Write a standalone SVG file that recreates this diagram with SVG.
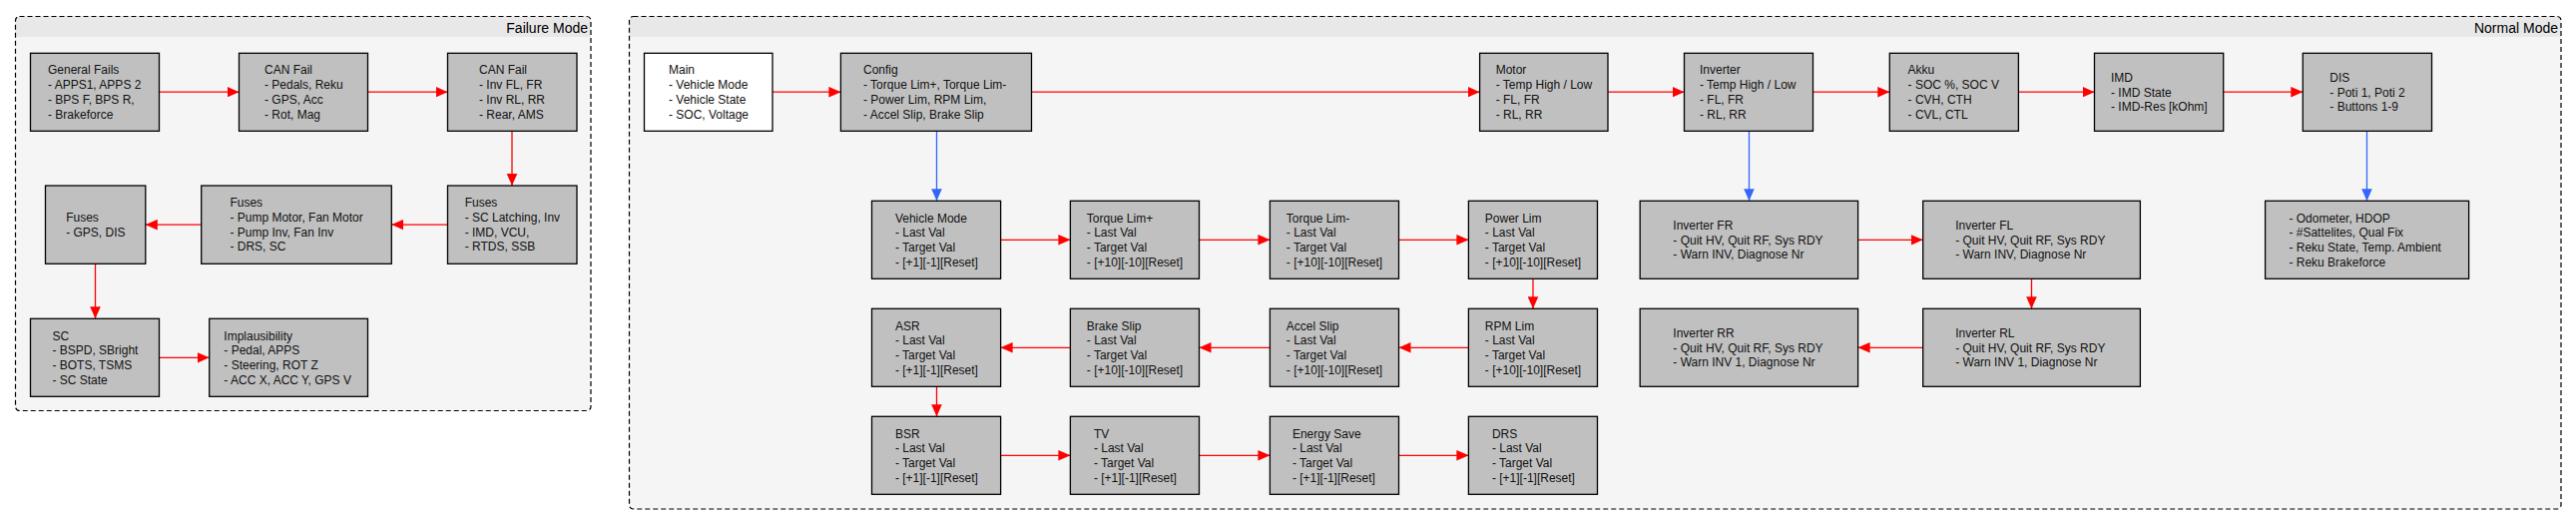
<svg xmlns="http://www.w3.org/2000/svg" width="2581" height="526" viewBox="0 0 2581 526">
<style>
.cont{fill:#f5f5f5;stroke:none}
.hdr{fill:#e8e8e8;stroke:none}
.border{fill:none;stroke:#000;stroke-width:1.2;stroke-dasharray:5,3}
.title{font-family:"Liberation Sans",Arial,sans-serif;font-size:14px;fill:#000;text-anchor:end}
.box{fill:#c0c0c0;stroke:#000;stroke-width:1.3}
.wbox{fill:#ffffff;stroke:#000;stroke-width:1.3}
.t{font-family:"Liberation Sans",Arial,sans-serif;font-size:12px;fill:#111}
.r{stroke:#ff0000;stroke-width:1.3;fill:none;marker-end:url(#ar)}
.b{stroke:#3366ff;stroke-width:1.3;fill:none;marker-end:url(#ab)}
</style>
<defs>
<marker id="ar" markerUnits="userSpaceOnUse" markerWidth="12" markerHeight="11" refX="12" refY="5.3" orient="auto" viewBox="0 0 12 10.6"><path d="M0,0 L12,5.3 L0,10.6 z" fill="#ff0000"/></marker>
<marker id="ab" markerUnits="userSpaceOnUse" markerWidth="12" markerHeight="11" refX="12" refY="5.3" orient="auto" viewBox="0 0 12 10.6"><path d="M0,0 L12,5.3 L0,10.6 z" fill="#3366ff"/></marker>
</defs>
<rect width="2581" height="526" fill="#ffffff"/>

<g id="failure-mode">
<rect class="cont" x="15.5" y="16.5" width="576.5" height="395" rx="4"/>
<path class="hdr" d="M15.5,37 V20.5 A4,4 0 0 1 19.5,16.5 H588 A4,4 0 0 1 592,20.5 V37 Z"/>
<rect class="border" x="15.5" y="16.5" width="576.5" height="395" rx="4"/>
<text class="title" x="589" y="32.5">Failure Mode</text>
</g>

<g id="normal-mode">
<rect class="cont" x="630.5" y="16.5" width="1935.5" height="493.5" rx="4"/>
<path class="hdr" d="M630.5,37 V20.5 A4,4 0 0 1 634.5,16.5 H2562 A4,4 0 0 1 2566,20.5 V37 Z"/>
<rect class="border" x="630.5" y="16.5" width="1935.5" height="493.5" rx="4"/>
<text class="title" x="2563" y="32.5">Normal Mode</text>
</g>

<g id="connectors">
<line class="r" x1="159.5" y1="92.2" x2="239.5" y2="92.2"/>
<line class="r" x1="368.5" y1="92.2" x2="448.5" y2="92.2"/>
<line class="r" x1="513" y1="131.3" x2="513" y2="186"/>
<line class="r" x1="448.5" y1="225.1" x2="392.3" y2="225.1"/>
<line class="r" x1="201.7" y1="225.1" x2="145.8" y2="225.1"/>
<line class="r" x1="95.5" y1="264.1" x2="95.5" y2="319.3"/>
<line class="r" x1="159.5" y1="358.3" x2="209.7" y2="358.3"/>

<line class="r" x1="774" y1="92.2" x2="842.4" y2="92.2"/>
<line class="r" x1="1033.5" y1="92.2" x2="1482.6" y2="92.2"/>
<line class="r" x1="1611" y1="92.2" x2="1687.5" y2="92.2"/>
<line class="r" x1="1816.5" y1="92.2" x2="1893.3" y2="92.2"/>
<line class="r" x1="2022.4" y1="92.2" x2="2098.5" y2="92.2"/>
<line class="r" x1="2227.7" y1="92.2" x2="2307.3" y2="92.2"/>
<line class="b" x1="938.5" y1="131.3" x2="938.5" y2="201.3"/>
<line class="b" x1="1752.5" y1="131.3" x2="1752.5" y2="201.3"/>
<line class="b" x1="2371.5" y1="131.3" x2="2371.5" y2="201.3"/>

<line class="r" x1="1002.6" y1="240.3" x2="1072.4" y2="240.3"/>
<line class="r" x1="1201.5" y1="240.3" x2="1272.4" y2="240.3"/>
<line class="r" x1="1401.5" y1="240.3" x2="1471.4" y2="240.3"/>
<line class="r" x1="1536" y1="279.3" x2="1536" y2="309.3"/>
<line class="r" x1="1471.4" y1="348.3" x2="1401.5" y2="348.3"/>
<line class="r" x1="1272.4" y1="348.3" x2="1201.5" y2="348.3"/>
<line class="r" x1="1072.4" y1="348.3" x2="1002.6" y2="348.3"/>
<line class="r" x1="938.5" y1="387.3" x2="938.5" y2="417.3"/>
<line class="r" x1="1002.6" y1="456.3" x2="1072.4" y2="456.3"/>
<line class="r" x1="1201.5" y1="456.3" x2="1272.4" y2="456.3"/>
<line class="r" x1="1401.5" y1="456.3" x2="1471.4" y2="456.3"/>

<line class="r" x1="1861.6" y1="240.3" x2="1926.7" y2="240.3"/>
<line class="r" x1="2035.5" y1="279.3" x2="2035.5" y2="309.3"/>
<line class="r" x1="1926.7" y1="348.3" x2="1861.6" y2="348.3"/>
</g>

<g id="general-fails"><rect class="box" x="30.5" y="53.3" width="129" height="78"/>
<text class="t" x="48" y="74.4">General Fails<tspan x="48" dy="14.7">- APPS1, APPS 2</tspan><tspan x="48" dy="14.7">- BPS F, BPS R,</tspan><tspan x="48" dy="14.7">- Brakeforce</tspan></text></g>

<g id="can-fail-1"><rect class="box" x="239.5" y="53.3" width="129" height="78"/>
<text class="t" x="265" y="74.4">CAN Fail<tspan x="265" dy="14.7">- Pedals, Reku</tspan><tspan x="265" dy="14.7">- GPS, Acc</tspan><tspan x="265" dy="14.7">- Rot, Mag</tspan></text></g>

<g id="can-fail-2"><rect class="box" x="448.5" y="53.3" width="129.5" height="78"/>
<text class="t" x="480" y="74.4">CAN Fail<tspan x="480" dy="14.7">- Inv FL, FR</tspan><tspan x="480" dy="14.7">- Inv RL, RR</tspan><tspan x="480" dy="14.7">- Rear, AMS</tspan></text></g>

<g id="fuses-right"><rect class="box" x="448.5" y="186" width="129.5" height="78.3"/>
<text class="t" x="465.7" y="207.3">Fuses<tspan x="465.7" dy="14.7">- SC Latching, Inv</tspan><tspan x="465.7" dy="14.7">- IMD, VCU,</tspan><tspan x="465.7" dy="14.7">- RTDS, SSB</tspan></text></g>

<g id="fuses-middle"><rect class="box" x="201.7" y="186" width="190.6" height="78.3"/>
<text class="t" x="230.4" y="207.3">Fuses<tspan x="230.4" dy="14.7">- Pump Motor, Fan Motor</tspan><tspan x="230.4" dy="14.7">- Pump Inv, Fan Inv</tspan><tspan x="230.4" dy="14.7">- DRS, SC</tspan></text></g>

<g id="fuses-left"><rect class="box" x="45.5" y="186" width="100.3" height="78.3"/>
<text class="t" x="66.2" y="222">Fuses<tspan x="66.2" dy="14.7">- GPS, DIS</tspan></text></g>

<g id="sc"><rect class="box" x="30.5" y="319.3" width="129" height="78"/>
<text class="t" x="52.4" y="340.5">SC<tspan x="52.4" dy="14.7">- BSPD, SBright</tspan><tspan x="52.4" dy="14.7">- BOTS, TSMS</tspan><tspan x="52.4" dy="14.7">- SC State</tspan></text></g>

<g id="implausibility"><rect class="box" x="209.7" y="319.3" width="158.8" height="78"/>
<text class="t" x="224.3" y="340.5">Implausibility<tspan x="224.3" dy="14.7">- Pedal, APPS</tspan><tspan x="224.3" dy="14.7">- Steering, ROT Z</tspan><tspan x="224.3" dy="14.7">- ACC X, ACC Y, GPS V</tspan></text></g>

<g id="main"><rect class="wbox" x="645.5" y="53.3" width="128.5" height="78"/>
<text class="t" x="670" y="74.4">Main<tspan x="670" dy="14.7">- Vehicle Mode</tspan><tspan x="670" dy="14.7">- Vehicle State</tspan><tspan x="670" dy="14.7">- SOC, Voltage</tspan></text></g>

<g id="config"><rect class="box" x="842.4" y="53.3" width="191.1" height="78"/>
<text class="t" x="865" y="74.4">Config<tspan x="865" dy="14.7">- Torque Lim+, Torque Lim-</tspan><tspan x="865" dy="14.7">- Power Lim, RPM Lim,</tspan><tspan x="865" dy="14.7">- Accel Slip, Brake Slip</tspan></text></g>

<g id="motor"><rect class="box" x="1482.6" y="53.3" width="128.4" height="78"/>
<text class="t" x="1498.7" y="74.4">Motor<tspan x="1498.7" dy="14.7">- Temp High / Low</tspan><tspan x="1498.7" dy="14.7">- FL, FR</tspan><tspan x="1498.7" dy="14.7">- RL, RR</tspan></text></g>

<g id="inverter"><rect class="box" x="1687.5" y="53.3" width="129" height="78"/>
<text class="t" x="1703" y="74.4">Inverter<tspan x="1703" dy="14.7">- Temp High / Low</tspan><tspan x="1703" dy="14.7">- FL, FR</tspan><tspan x="1703" dy="14.7">- RL, RR</tspan></text></g>

<g id="akku"><rect class="box" x="1893.3" y="53.3" width="129.1" height="78"/>
<text class="t" x="1911.6" y="74.4">Akku<tspan x="1911.6" dy="14.7">- SOC %, SOC V</tspan><tspan x="1911.6" dy="14.7">- CVH, CTH</tspan><tspan x="1911.6" dy="14.7">- CVL, CTL</tspan></text></g>

<g id="imd"><rect class="box" x="2098.5" y="53.3" width="129.2" height="78"/>
<text class="t" x="2115" y="81.8">IMD<tspan x="2115" dy="14.7">- IMD State</tspan><tspan x="2115" dy="14.7">- IMD-Res [kOhm]</tspan></text></g>

<g id="dis"><rect class="box" x="2307.3" y="53.3" width="129.2" height="78"/>
<text class="t" x="2334.3" y="81.8">DIS<tspan x="2334.3" dy="14.7">- Poti 1, Poti 2</tspan><tspan x="2334.3" dy="14.7">- Buttons 1-9</tspan></text></g>

<g id="vehicle-mode"><rect class="box" x="873.5" y="201.3" width="129.1" height="78"/>
<text class="t" x="896.9" y="222.5">Vehicle Mode<tspan x="896.9" dy="14.7">- Last Val</tspan><tspan x="896.9" dy="14.7">- Target Val</tspan><tspan x="896.9" dy="14.7">- [+1][-1][Reset]</tspan></text></g>

<g id="torque-lim-plus"><rect class="box" x="1072.4" y="201.3" width="129.1" height="78"/>
<text class="t" x="1088.8" y="222.5">Torque Lim+<tspan x="1088.8" dy="14.7">- Last Val</tspan><tspan x="1088.8" dy="14.7">- Target Val</tspan><tspan x="1088.8" dy="14.7">- [+10][-10][Reset]</tspan></text></g>

<g id="torque-lim-minus"><rect class="box" x="1272.4" y="201.3" width="129.1" height="78"/>
<text class="t" x="1288.8" y="222.5">Torque Lim-<tspan x="1288.8" dy="14.7">- Last Val</tspan><tspan x="1288.8" dy="14.7">- Target Val</tspan><tspan x="1288.8" dy="14.7">- [+10][-10][Reset]</tspan></text></g>

<g id="power-lim"><rect class="box" x="1471.4" y="201.3" width="129.1" height="78"/>
<text class="t" x="1487.8" y="222.5">Power Lim<tspan x="1487.8" dy="14.7">- Last Val</tspan><tspan x="1487.8" dy="14.7">- Target Val</tspan><tspan x="1487.8" dy="14.7">- [+10][-10][Reset]</tspan></text></g>

<g id="inverter-fr"><rect class="box" x="1643.2" y="201.3" width="218.4" height="78"/>
<text class="t" x="1676.3" y="229.9">Inverter FR<tspan x="1676.3" dy="14.7">- Quit HV, Quit RF, Sys RDY</tspan><tspan x="1676.3" dy="14.7">- Warn INV, Diagnose Nr</tspan></text></g>

<g id="inverter-fl"><rect class="box" x="1926.7" y="201.3" width="217.7" height="78"/>
<text class="t" x="1959.2" y="229.9">Inverter FL<tspan x="1959.2" dy="14.7">- Quit HV, Quit RF, Sys RDY</tspan><tspan x="1959.2" dy="14.7">- Warn INV, Diagnose Nr</tspan></text></g>

<g id="dis-details"><rect class="box" x="2269.6" y="201.3" width="204" height="78"/>
<text class="t" x="2293.4" y="222.5">- Odometer, HDOP<tspan x="2293.4" dy="14.7">- #Sattelites, Qual Fix</tspan><tspan x="2293.4" dy="14.7">- Reku State, Temp. Ambient</tspan><tspan x="2293.4" dy="14.7">- Reku Brakeforce</tspan></text></g>

<g id="asr"><rect class="box" x="873.5" y="309.3" width="129.1" height="78"/>
<text class="t" x="896.9" y="330.5">ASR<tspan x="896.9" dy="14.7">- Last Val</tspan><tspan x="896.9" dy="14.7">- Target Val</tspan><tspan x="896.9" dy="14.7">- [+1][-1][Reset]</tspan></text></g>

<g id="brake-slip"><rect class="box" x="1072.4" y="309.3" width="129.1" height="78"/>
<text class="t" x="1088.8" y="330.5">Brake Slip<tspan x="1088.8" dy="14.7">- Last Val</tspan><tspan x="1088.8" dy="14.7">- Target Val</tspan><tspan x="1088.8" dy="14.7">- [+10][-10][Reset]</tspan></text></g>

<g id="accel-slip"><rect class="box" x="1272.4" y="309.3" width="129.1" height="78"/>
<text class="t" x="1288.8" y="330.5">Accel Slip<tspan x="1288.8" dy="14.7">- Last Val</tspan><tspan x="1288.8" dy="14.7">- Target Val</tspan><tspan x="1288.8" dy="14.7">- [+10][-10][Reset]</tspan></text></g>

<g id="rpm-lim"><rect class="box" x="1471.4" y="309.3" width="129.1" height="78"/>
<text class="t" x="1487.8" y="330.5">RPM Lim<tspan x="1487.8" dy="14.7">- Last Val</tspan><tspan x="1487.8" dy="14.7">- Target Val</tspan><tspan x="1487.8" dy="14.7">- [+10][-10][Reset]</tspan></text></g>

<g id="inverter-rr"><rect class="box" x="1643.2" y="309.3" width="218.4" height="78"/>
<text class="t" x="1676.3" y="337.9">Inverter RR<tspan x="1676.3" dy="14.7">- Quit HV, Quit RF, Sys RDY</tspan><tspan x="1676.3" dy="14.7">- Warn INV 1, Diagnose Nr</tspan></text></g>

<g id="inverter-rl"><rect class="box" x="1926.7" y="309.3" width="217.7" height="78"/>
<text class="t" x="1959.2" y="337.9">Inverter RL<tspan x="1959.2" dy="14.7">- Quit HV, Quit RF, Sys RDY</tspan><tspan x="1959.2" dy="14.7">- Warn INV 1, Diagnose Nr</tspan></text></g>

<g id="bsr"><rect class="box" x="873.5" y="417.3" width="129.1" height="78"/>
<text class="t" x="896.9" y="438.5">BSR<tspan x="896.9" dy="14.7">- Last Val</tspan><tspan x="896.9" dy="14.7">- Target Val</tspan><tspan x="896.9" dy="14.7">- [+1][-1][Reset]</tspan></text></g>

<g id="tv"><rect class="box" x="1072.4" y="417.3" width="129.1" height="78"/>
<text class="t" x="1095.9" y="438.5">TV<tspan x="1095.9" dy="14.7">- Last Val</tspan><tspan x="1095.9" dy="14.7">- Target Val</tspan><tspan x="1095.9" dy="14.7">- [+1][-1][Reset]</tspan></text></g>

<g id="energy-save"><rect class="box" x="1272.4" y="417.3" width="129.1" height="78"/>
<text class="t" x="1294.9" y="438.5">Energy Save<tspan x="1294.9" dy="14.7">- Last Val</tspan><tspan x="1294.9" dy="14.7">- Target Val</tspan><tspan x="1294.9" dy="14.7">- [+1][-1][Reset]</tspan></text></g>

<g id="drs"><rect class="box" x="1471.4" y="417.3" width="129.1" height="78"/>
<text class="t" x="1494.9" y="438.5">DRS<tspan x="1494.9" dy="14.7">- Last Val</tspan><tspan x="1494.9" dy="14.7">- Target Val</tspan><tspan x="1494.9" dy="14.7">- [+1][-1][Reset]</tspan></text></g>
</svg>
